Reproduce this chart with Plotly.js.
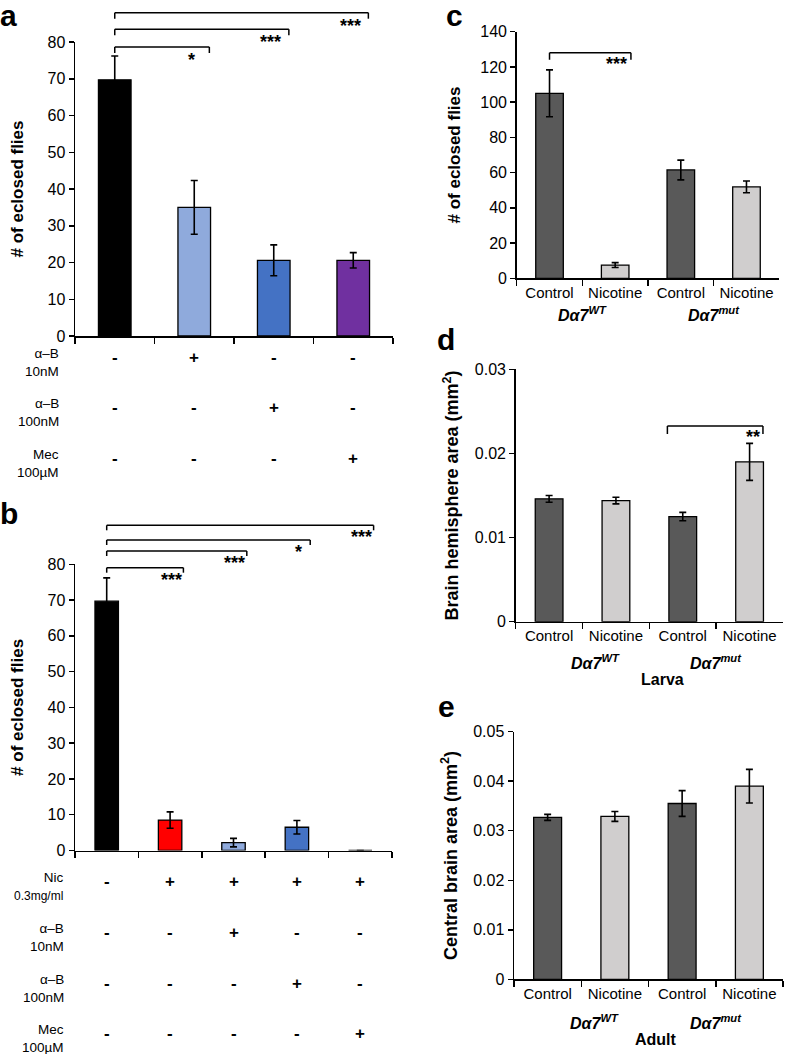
<!DOCTYPE html>
<html><head><meta charset="utf-8">
<script src="https://cdn.plot.ly/plotly-3.0.1.min.js"></script>
<style>html,body{margin:0;padding:0;background:#fff}#chart{width:786px;height:1054px}</style>
</head><body><div id="chart"></div>
<script>
// ---------- Panel a ----------
const aCategories = ['Control', 'α–B 10nM', 'α–B 100nM', 'Mec 100µM'];
const aValues = [69.7, 35.0, 20.6, 20.6];
const aErrors = [6.5, 7.3, 4.2, 2.1];
const aRowLabels = ['α–B<br>10nM', 'α–B<br>100nM', 'Mec<br>100µM'];
const aRowMarks = [['-', '+', '-', '-'], ['-', '-', '+', '-'], ['-', '-', '-', '+']];
const aSigTargets = [1, 2, 3];
const aSigLabels = ['*', '***', '***'];

// ---------- Panel b ----------
const bCategories = ['Control', 'Nic', 'Nic + α–B 10nM', 'Nic + α–B 100nM', 'Nic + Mec 100µM'];
const bValues = [69.7, 8.5, 2.2, 6.5, 0];
const bErrors = [6.5, 2.3, 1.2, 1.9, 0];
const bRowLabels = ['Nic<br><span style="font-size:12px">0.3mg/ml</span>', 'α–B<br>10nM', 'α–B<br>100nM', 'Mec<br>100µM'];
const bRowMarks = [['-', '+', '+', '+', '+'], ['-', '-', '+', '-', '-'], ['-', '-', '-', '+', '-'], ['-', '-', '-', '-', '+']];
const bSigTargets = [1, 2, 3, 4];
const bSigLabels = ['***', '***', '*', '***'];

// ---------- Panels c, d, e ----------
const genotypeCategories = ['WT Control', 'WT Nicotine', 'mut Control', 'mut Nicotine'];
const treatmentLabels = ['Control', 'Nicotine', 'Control', 'Nicotine'];
const genotypeLabels = ['<b><i>Dα7</i><sup><i>WT</i></sup></b>', '<b><i>Dα7</i><sup><i>mut</i></sup></b>'];
const cValues = [105.0, 7.5, 61.5, 51.9];
const cErrors = [13.3, 1.4, 5.6, 3.3];
const dValues = [0.0146, 0.0144, 0.0125, 0.0190];
const dErrors = [0.0004, 0.0004, 0.0005, 0.0022];
const eValues = [0.0327, 0.0329, 0.0355, 0.0390];
const eErrors = [0.0006, 0.0010, 0.0026, 0.0034];

// ---------- styles ----------
const aColors = ['#000000', '#8FAADC', '#4472C4', '#7030A0'];
const bColors = ['#000000', '#FF0000', '#8FAADC', '#4472C4', '#4472C4'];
const grayColors = ['#595959', '#D0CECE', '#595959', '#D0CECE'];
const FONT = 'Liberation Sans, Arial, Helvetica, sans-serif';
const W = 786, H = 1054;
const px = x => x / W;
const py = y => 1 - y / H;

function barTrace(cats, vals, errs, colors, xa, ya, width) {
  return {
    type: 'bar', x: cats, y: vals, xaxis: xa, yaxis: ya, width: width,
    marker: {color: colors, line: {color: '#000', width: 1.3}},
    error_y: {type: 'data', array: errs, visible: true, color: '#000', thickness: 1.6, width: 3.5},
    showlegend: false, hoverinfo: 'x+y'
  };
}

const data = [
  barTrace(aCategories, aValues, aErrors, aColors, 'x', 'y', 0.41),
  barTrace(bCategories, bValues, bErrors, bColors, 'x2', 'y2', 0.37),
  barTrace(genotypeCategories, cValues, cErrors, grayColors, 'x3', 'y3', 0.42),
  barTrace(genotypeCategories, dValues, dErrors, grayColors, 'x4', 'y4', 0.415),
  barTrace(genotypeCategories, eValues, eErrors, grayColors, 'x5', 'y5', 0.415)
];

function xAxis(l, r, anchor, n, labels, cats) {
  const ax = {
    domain: [px(l), px(r)], anchor: anchor, type: 'category', range: [-0.5, n - 0.5],
    showline: true, linecolor: '#000', linewidth: 1.5, mirror: false,
    ticks: 'outside', tickson: 'boundaries', ticklen: 6, tickwidth: 1.5, tickcolor: '#000',
    showgrid: false, zeroline: false, fixedrange: true,
    tickfont: {family: FONT, size: 15, color: '#000'}
  };
  if (labels) { ax.tickmode = 'array'; ax.tickvals = cats; ax.ticktext = labels; }
  else { ax.showticklabels = false; }
  return ax;
}
function yAxis(top, bottom, anchor, range, dtick, title, standoff, titleSize) {
  return {
    domain: [py(bottom), py(top)], anchor: anchor, range: range, dtick: dtick,
    showline: true, linecolor: '#000', linewidth: 1.5,
    ticks: 'outside', ticklen: 5, tickwidth: 1.5, tickcolor: '#000',
    showgrid: false, zeroline: false, fixedrange: true,
    tickfont: {family: FONT, size: 16, color: '#000'},
    title: {text: title, standoff: standoff, font: {family: FONT, size: titleSize, color: '#000', weight: 'bold'}}
  };
}

const shapes = [];
const annotations = [];
const lineStyle = {color: '#000', width: 1.5};

function bracket(xa, x0, x1, yPx, dropPx, label, starOffset, starDy) {
  shapes.push({type: 'line', xref: xa, yref: 'paper', x0: x0, x1: x0, y0: py(yPx), y1: py(yPx + dropPx), line: lineStyle});
  shapes.push({type: 'line', xref: xa, yref: 'paper', x0: x0, x1: x1, y0: py(yPx), y1: py(yPx), line: lineStyle});
  shapes.push({type: 'line', xref: xa, yref: 'paper', x0: x1, x1: x1, y0: py(yPx), y1: py(yPx + dropPx), line: lineStyle});
  annotations.push({xref: xa, yref: 'paper', x: x1 - starOffset, y: py(yPx + starDy), yanchor: 'middle', xanchor: 'center',
    text: '<b>' + label + '</b>', showarrow: false, font: {family: FONT, size: 18, color: '#000'}});
}

// panel a brackets
const aBracketY = [47, 29.3, 12.7];
aSigTargets.forEach((t, i) => bracket('x', 0, t + 0.19, aBracketY[i], 6, aSigLabels[i], 0.23, 13));
// panel b brackets
const bBracketY = [567.7, 551, 540, 525.3];
bSigTargets.forEach((t, i) => bracket('x2', 0, t + 0.21, bBracketY[i], 5, bSigLabels[i], 0.19, 12));
// panel c bracket
bracket('x3', 0, 1 + 0.24, 52.7, 7, '***', 0.22, 11);
// panel d bracket
bracket('x4', 2 - 0.23, 3 + 0.2, 426, 8, '**', 0.15, 11);

// treatment tables
function table(xa, rowLabels, rowMarks, rowY, labelRight) {
  rowLabels.forEach((lab, r) => {
    annotations.push({xref: 'paper', yref: 'paper', x: px(labelRight), y: py(rowY[r] + 5), xanchor: 'right', yanchor: 'middle',
      align: 'right', text: lab, showarrow: false, font: {family: FONT, size: 13.5, color: '#000'}});
    rowMarks[r].forEach((m, c) => {
      annotations.push({xref: xa, yref: 'paper', x: c, y: py(rowY[r]), xanchor: 'center', yanchor: 'middle',
        text: '<b>' + m + '</b>', showarrow: false, font: {family: FONT, size: 17, color: '#000'}});
    });
  });
}
table('x', aRowLabels, aRowMarks, [357.3, 407.7, 458.3], 61);
table('x2', bRowLabels, bRowMarks, [881.7, 932.7, 983, 1033], 66);

// genotype labels and stage labels
function genoLabels(xa, yPx, x1, x2) {
  annotations.push({xref: xa, yref: 'paper', x: x1, y: py(yPx), xanchor: 'center', yanchor: 'middle',
    text: genotypeLabels[0], showarrow: false, font: {family: FONT, size: 16, color: '#000'}});
  annotations.push({xref: xa, yref: 'paper', x: x2, y: py(yPx), xanchor: 'center', yanchor: 'middle',
    text: genotypeLabels[1], showarrow: false, font: {family: FONT, size: 16, color: '#000'}});
}
genoLabels('x3', 314, 0.5, 2.5);
genoLabels('x4', 662, 0.7, 2.5);
genoLabels('x5', 1022, 0.7, 2.5);
annotations.push({xref: 'paper', yref: 'paper', x: px(662), y: py(679), xanchor: 'center', yanchor: 'middle',
  text: '<b>Larva</b>', showarrow: false, font: {family: FONT, size: 16, color: '#000'}});
annotations.push({xref: 'paper', yref: 'paper', x: px(656), y: py(1039), xanchor: 'center', yanchor: 'middle',
  text: '<b>Adult</b>', showarrow: false, font: {family: FONT, size: 16, color: '#000'}});

// panel letters
[['a', 8, 15], ['b', 9, 513], ['c', 454, 15], ['d', 446, 340], ['e', 446, 706]].forEach(([t, x, y]) => {
  annotations.push({xref: 'paper', yref: 'paper', x: px(x), y: py(y), xanchor: 'center', yanchor: 'middle',
    text: '<b>' + t + '</b>', showarrow: false, font: {family: FONT, size: 30, color: '#000'}});
});

const layout = {
  width: W, height: H, margin: {l: 0, r: 0, t: 0, b: 0},
  paper_bgcolor: '#fff', plot_bgcolor: 'rgba(0,0,0,0)', showlegend: false,
  font: {family: FONT, color: '#000'},
  xaxis: xAxis(75, 393, 'y', 4),
  yaxis: yAxis(42, 336, 'x', [0, 80], 10, '# of eclosed flies', 19, 17),
  xaxis2: xAxis(75, 392, 'y2', 5),
  yaxis2: yAxis(564.3, 850.5, 'x2', [0, 80], 10, '# of eclosed flies', 19, 17),
  xaxis3: xAxis(516.7, 779.3, 'y3', 4, treatmentLabels, genotypeCategories),
  yaxis3: yAxis(31.7, 278.3, 'x3', [0, 140], 20, '# of eclosed flies', 15, 17),
  xaxis4: xAxis(515.7, 783, 'y4', 4, treatmentLabels, genotypeCategories),
  yaxis4: yAxis(369.3, 621.7, 'x4', [0, 0.03], 0.01, 'Brain hemisphere area (mm<sup>2</sup>)', 11, 18),
  xaxis5: xAxis(514, 783, 'y5', 4, treatmentLabels, genotypeCategories),
  yaxis5: yAxis(731.7, 979.3, 'x5', [0, 0.05], 0.01, 'Central brain area (mm<sup>2</sup>)', 11, 18),
  shapes: shapes, annotations: annotations
};

Plotly.newPlot('chart', data, layout, {staticPlot: true, displayModeBar: false});
</script></body></html>
